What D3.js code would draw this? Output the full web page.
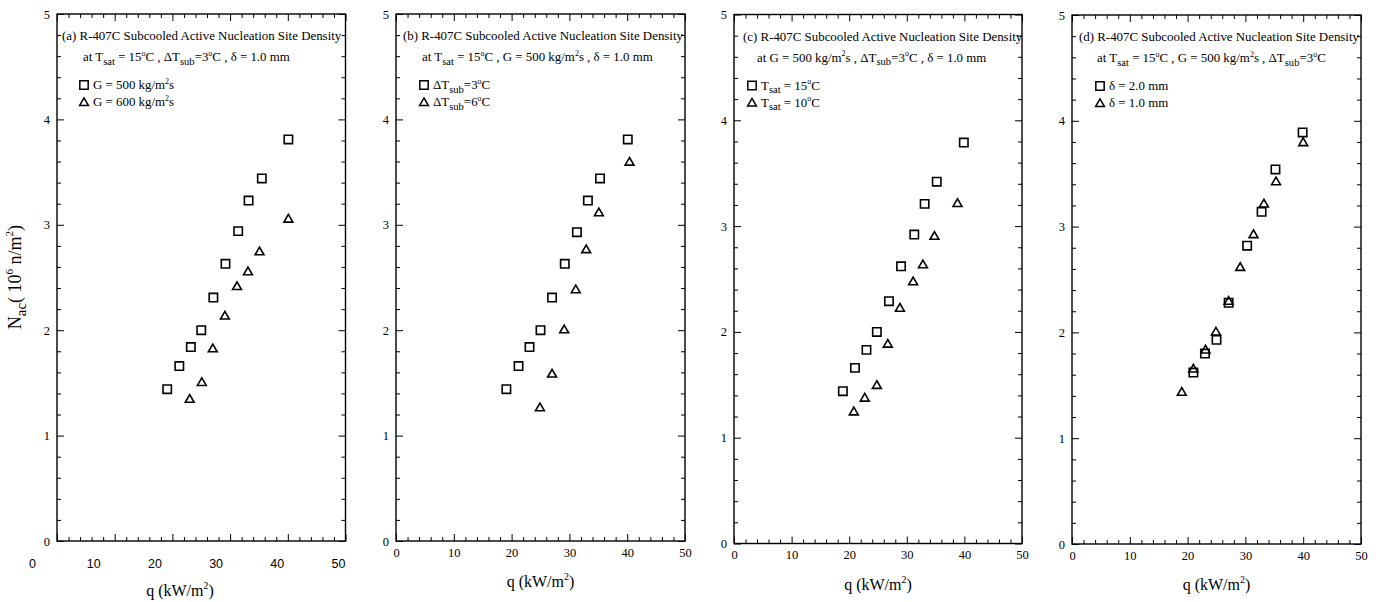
<!DOCTYPE html>
<html><head><meta charset="utf-8">
<script src="https://cdn.jsdelivr.net/npm/d3@7"></script>
<style>
html,body{margin:0;padding:0;background:#fff;}
</style></head>
<body>
<svg id="chart" width="1383" height="602"></svg>
<script>
// ---------- data ----------
const qTicks = [0, 10, 20, 30, 40, 50];
const nTicks = [0, 1, 2, 3, 4, 5];

// (a) G effect
const a_G500_q = [19.1, 21.2, 23.2, 25.0, 27.1, 29.2, 31.4, 33.2, 35.5, 40.1];
const a_G500_N = [1.44, 1.66, 1.84, 2.00, 2.31, 2.63, 2.94, 3.23, 3.44, 3.81];
const a_G600_q = [23.0, 25.1, 27.0, 29.1, 31.2, 33.1, 35.1, 40.1];
const a_G600_N = [1.34, 1.50, 1.82, 2.13, 2.41, 2.55, 2.74, 3.05];

// (b) subcooling effect
const b_dT3_q = [19.1, 21.2, 23.1, 25.0, 27.0, 29.2, 31.3, 33.2, 35.3, 40.1];
const b_dT3_N = [1.44, 1.66, 1.84, 2.00, 2.31, 2.63, 2.93, 3.23, 3.44, 3.81];
const b_dT6_q = [24.9, 27.0, 29.1, 31.1, 32.9, 35.1, 40.4];
const b_dT6_N = [1.26, 1.58, 2.00, 2.38, 2.76, 3.11, 3.59];

// (c) saturation temperature effect
const c_T15_q = [18.9, 21.0, 23.0, 24.8, 26.9, 29.0, 31.3, 33.1, 35.2, 39.9];
const c_T15_N = [1.44, 1.66, 1.83, 2.00, 2.29, 2.62, 2.92, 3.21, 3.42, 3.79];
const c_T10_q = [20.8, 22.7, 24.8, 26.7, 28.8, 31.1, 32.8, 34.8, 38.8];
const c_T10_N = [1.24, 1.37, 1.49, 1.88, 2.22, 2.47, 2.63, 2.90, 3.21];

// (d) gap effect
const d_gap2_q = [21.0, 23.0, 25.0, 27.1, 30.3, 32.8, 35.2, 39.9];
const d_gap2_N = [1.62, 1.80, 1.93, 2.28, 2.82, 3.14, 3.54, 3.89];
const d_gap1_q = [19.0, 21.0, 23.1, 24.9, 27.1, 29.1, 31.4, 33.2, 35.3, 40.0];
const d_gap1_N = [1.43, 1.65, 1.83, 2.00, 2.29, 2.61, 2.92, 3.21, 3.42, 3.79];

// text pieces: [text, kind]  kind: n = normal, sub, sup
const titlesA = [["(a) R-407C Subcooled Active Nucleation Site Density","n"]];
const titlesB = [["(b) R-407C Subcooled Active Nucleation Site Density","n"]];
const titlesC = [["(c) R-407C Subcooled Active Nucleation Site Density","n"]];
const titlesD = [["(d) R-407C Subcooled Active Nucleation Site Density","n"]];
const condA = [["at T","n"],["sat","sub"],[" = 15","n"],["o","sup"],["C ,  \u0394T","n"],["sub","sub"],["=3","n"],["o","sup"],["C , \u03B4 = 1.0 mm","n"]];
const condB = [["at T","n"],["sat","sub"],[" = 15","n"],["o","sup"],["C , G = 500 kg/m","n"],["2","sup"],["s  , \u03B4 = 1.0 mm","n"]];
const condC = [["at G = 500 kg/m","n"],["2","sup"],["s  , \u0394T","n"],["sub","sub"],["=3","n"],["o","sup"],["C , \u03B4 = 1.0 mm","n"]];
const condD = [["at T","n"],["sat","sub"],[" = 15","n"],["o","sup"],["C , G = 500 kg/m","n"],["2","sup"],["s  , \u0394T","n"],["sub","sub"],["=3","n"],["o","sup"],["C","n"]];
const legA = [[["G = 500 kg/m","n"],["2","sup"],["s","n"]], [["G = 600 kg/m","n"],["2","sup"],["s","n"]]];
const legB = [[["\u0394T","n"],["sub","sub"],["=3","n"],["o","sup"],["C","n"]], [["\u0394T","n"],["sub","sub"],["=6","n"],["o","sup"],["C","n"]]];
const legC = [[["T","n"],["sat","sub"],[" = 15","n"],["o","sup"],["C","n"]], [["T","n"],["sat","sub"],[" = 10","n"],["o","sup"],["C","n"]]];
const legD = [[["\u03B4 = 2.0 mm","n"]], [["\u03B4 = 1.0 mm","n"]]];
const xTitle = [["q (kW/m","n"],["2","sup"],[")","n"]];
const yTitle = [["N","n"],["ac","sub"],["( 10","n"],["6","sup"],[" n/m","n"],["2","sup"],[")","n"]];

// ---------- layout ----------
const SERIF = "'Liberation Serif','Times New Roman',Times,serif";
const SANS = "'Liberation Sans',Arial,Helvetica,sans-serif";
const panels = [
  {x0:57,  x1:345.5, yT:14,   yB:541, title:titlesA, cond:condA, leg:legA,
   sq:[a_G500_q,a_G500_N], tri:[a_G600_q,a_G600_N], tx:62, cx:83, lx:84, sansX:true},
  {x0:396, x1:685,   yT:14,   yB:541, title:titlesB, cond:condB, leg:legB,
   sq:[b_dT3_q,b_dT3_N], tri:[b_dT6_q,b_dT6_N], tx:403, cx:422, lx:424},
  {x0:734, x1:1022,  yT:14.5, yB:543.5, title:titlesC, cond:condC, leg:legC,
   sq:[c_T15_q,c_T15_N], tri:[c_T10_q,c_T10_N], tx:743, cx:757, lx:752},
  {x0:1072,x1:1361,  yT:15,   yB:544, title:titlesD, cond:condD, leg:legD,
   sq:[d_gap2_q,d_gap2_N], tri:[d_gap1_q,d_gap1_N], tx:1079, cx:1097, lx:1100}
];

const svg = d3.select("#chart");

function rich(sel, parts, size){
  sel.style("font-family", SERIF).attr("fill","#000");
  let cur = 0;
  parts.forEach(([t,k])=>{
    const ts = sel.append("tspan").text(t);
    let target = 0, fs = size;
    if(k==="sub"){ fs = size*0.82; target = size*0.3; }
    else if(k==="sup"){ fs = size*0.62; target = -size*0.42; }
    ts.style("font-size", fs+"px").attr("dy", target - cur);
    cur = target;
  });
}

const sqSym = d3.symbol().type(d3.symbolSquare).size(70);
const triSym = d3.symbol().type(d3.symbolTriangle).size(34);

panels.forEach((p, idx)=>{
  const x = d3.scaleLinear().domain([0,50]).range([p.x0, p.x1]);
  const y = d3.scaleLinear().domain([0,5]).range([p.yB, p.yT]);
  const g = svg.append("g");
  const minorX = d3.range(0, 51, 2).filter(v=>v%10!==0);
  const minorY = d3.range(0, 5.01, 0.2).map(v=>+v.toFixed(1)).filter(v=>Math.abs(v-Math.round(v))>1e-6);

  function tickAxis(axisFn, scale, vals, len, tr){
    const a = g.append("g").attr("transform", tr)
      .call(axisFn(scale).tickValues(vals).tickSize(-len).tickFormat(""));
    a.select(".domain").remove();
    a.selectAll("line").attr("stroke","#000").attr("stroke-width",1);
  }
  tickAxis(d3.axisBottom, x, qTicks, 7, `translate(0,${p.yB})`);
  tickAxis(d3.axisBottom, x, minorX, 4, `translate(0,${p.yB})`);
  tickAxis(d3.axisTop, x, qTicks, 7, `translate(0,${p.yT})`);
  tickAxis(d3.axisTop, x, minorX, 4, `translate(0,${p.yT})`);
  tickAxis(d3.axisLeft, y, nTicks, 7, `translate(${p.x0},0)`);
  tickAxis(d3.axisLeft, y, minorY, 4, `translate(${p.x0},0)`);
  tickAxis(d3.axisRight, y, nTicks, 7, `translate(${p.x1},0)`);
  tickAxis(d3.axisRight, y, minorY, 4, `translate(${p.x1},0)`);

  g.append("rect").attr("x",p.x0).attr("y",p.yT).attr("width",p.x1-p.x0).attr("height",p.yB-p.yT)
    .attr("fill","none").attr("stroke","#000").attr("stroke-width",1.4);

  // y tick labels
  const yl = g.append("g").attr("transform",`translate(${p.x0},0)`)
    .call(d3.axisLeft(y).tickValues(nTicks).tickSize(0).tickPadding(7).tickFormat(d3.format("d")));
  yl.select(".domain").remove();
  yl.selectAll("text").style("font-family", SERIF).style("font-size","12.5px").attr("fill","#000");

  // x tick labels
  if(p.sansX){
    const xs = d3.scaleLinear().domain([0,50]).range([32, 338]);
    const xl = g.append("g").attr("transform",`translate(0,559)`)
      .call(d3.axisBottom(xs).tickValues(qTicks).tickSize(0).tickPadding(0).tickFormat(d3.format("d")));
    xl.select(".domain").remove();
    xl.selectAll("text").style("font-family", SANS).style("font-size","12.5px").attr("fill","#000");
    g.append("text").attr("x", 180).attr("y", 596).attr("text-anchor","middle")
      .call(s=>rich(s, xTitle, 16));
  } else {
    const xl = g.append("g").attr("transform",`translate(0,${p.yB})`)
      .call(d3.axisBottom(x).tickValues(qTicks).tickSize(0).tickPadding(7).tickFormat(d3.format("d")));
    xl.select(".domain").remove();
    xl.selectAll("text").style("font-family", SERIF).style("font-size","12.5px").attr("fill","#000");
    g.append("text").attr("x", (p.x0+p.x1)/2).attr("y", p.yB+46).attr("text-anchor","middle")
      .call(s=>rich(s, xTitle, 16));
  }

  // annotation
  g.append("text").attr("x", p.tx).attr("y", p.yT+26).call(s=>rich(s, p.title, 12.9));
  g.append("text").attr("x", p.cx).attr("y", p.yT+47).call(s=>rich(s, p.cond, 12.9));

  // legend
  const legY = [p.yT+75, p.yT+92];
  g.append("path").attr("d", sqSym()).attr("transform",`translate(${p.lx},${legY[0]-4})`)
    .attr("fill","none").attr("stroke","#000").attr("stroke-width",1.5);
  g.append("path").attr("d", triSym()).attr("transform",`translate(${p.lx},${legY[1]-3})`)
    .attr("fill","none").attr("stroke","#000").attr("stroke-width",1.5);
  g.append("text").attr("x", p.lx+9).attr("y", legY[0]).call(s=>rich(s, p.leg[0], 12.9));
  g.append("text").attr("x", p.lx+9).attr("y", legY[1]).call(s=>rich(s, p.leg[1], 12.9));

  // data
  g.selectAll(".sq").data(d3.zip(p.sq[0], p.sq[1])).join("path").attr("class","sq")
    .attr("d", sqSym()).attr("transform", d=>`translate(${x(d[0])},${y(d[1])})`)
    .attr("fill","none").attr("stroke","#000").attr("stroke-width",1.6);
  g.selectAll(".tri").data(d3.zip(p.tri[0], p.tri[1])).join("path").attr("class","tri")
    .attr("d", triSym()).attr("transform", d=>`translate(${x(d[0])},${y(d[1])})`)
    .attr("fill","none").attr("stroke","#000").attr("stroke-width",1.6);
});

// y axis title (panel a only)
svg.append("text").attr("transform","translate(21,277) rotate(-90)").attr("text-anchor","middle")
  .call(s=>rich(s, yTitle, 18));
</script>
</body></html>
